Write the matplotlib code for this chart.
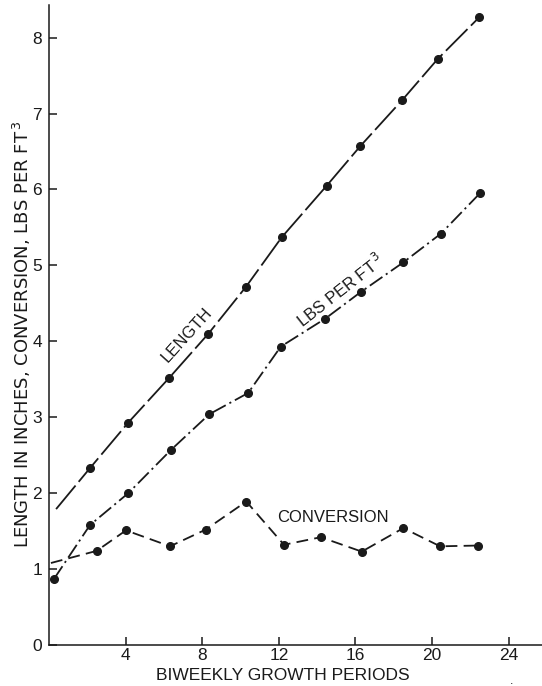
import matplotlib
matplotlib.use("Agg")
import matplotlib.pyplot as plt

# ---- data ----
length_x = [0.37, 2.14, 4.14, 6.28, 8.32, 10.29, 12.15, 14.5, 16.25, 18.45, 20.3, 22.47]
length_y = [1.79, 2.33, 2.93, 3.52, 4.10, 4.72, 5.37, 6.05, 6.57, 7.18, 7.72, 8.27]

lbs_x = [0.26, 2.14, 4.14, 6.37, 8.37, 10.4, 12.1, 14.43, 16.28, 18.5, 20.47, 22.5]
lbs_y = [0.87, 1.58, 2.00, 2.57, 3.04, 3.32, 3.93, 4.30, 4.65, 5.04, 5.42, 5.95]

conv_x = [0.1, 2.49, 4.02, 6.32, 8.18, 10.3, 12.27, 14.19, 16.33, 18.5, 20.42, 22.39]
conv_y = [1.08, 1.24, 1.51, 1.30, 1.52, 1.89, 1.32, 1.42, 1.23, 1.54, 1.30, 1.31]

xticks = [4, 8, 12, 16, 20, 24]
yticks = [0, 1, 2, 3, 4, 5, 6, 7, 8]

plt.rcParams['font.family'] = ['Liberation Sans', 'DejaVu Sans']
plt.rcParams['lines.scale_dashes'] = False
ink = '#1a1a1a'

fig = plt.figure(figsize=(5.42, 6.86), dpi=100)
ax = fig.add_axes([49/542, 41/686, 493/542, 640/686])
ax.set_xlim(0, 25.74)
ax.set_ylim(0, 8.43)

lw = 1.3
ms = 5.5
ax.plot(length_x, length_y, color=ink, lw=lw, dashes=(22, 3.5),
        marker='o', ms=ms, markevery=list(range(1, len(length_x))), clip_on=False)
ax.plot(lbs_x, lbs_y, color=ink, lw=lw, dashes=(11, 3, 1.5, 3),
        marker='o', ms=ms, clip_on=False)
ax.plot(conv_x, conv_y, color=ink, lw=lw, dashes=(8.5, 4.5),
        marker='o', ms=ms, markevery=list(range(1, len(conv_x))), clip_on=False)

for s in ['top', 'right']:
    ax.spines[s].set_visible(False)
for s in ['left', 'bottom']:
    ax.spines[s].set_color(ink)
    ax.spines[s].set_linewidth(1.1)

ax.set_xticks(xticks)
ax.set_yticks(yticks)
ax.tick_params(axis='both', direction='in', length=6, width=1.1, color=ink,
               labelsize=12.5, labelcolor=ink)
ax.tick_params(axis='y', pad=5)
ax.tick_params(axis='x', pad=2)

ax.text(7.2, 4.08, 'LENGTH', rotation=48, ha='center', va='center',
        fontsize=12, color=ink, rotation_mode='anchor')
ax.text(15.2, 4.67, 'LBS PER FT$^{\\,3}$', rotation=38, ha='center', va='center',
        fontsize=12, color=ink, rotation_mode='anchor')
ax.text(14.8, 1.68, 'CONVERSION', ha='center', va='center', fontsize=12, color=ink)

fig.text(283/542, 1 - 676/686, 'BIWEEKLY GROWTH PERIODS', ha='center', va='center',
         fontsize=12.5, color=ink)
fig.text(22/542, 1 - 334/686, 'LENGTH IN INCHES, CONVERSION, LBS PER FT$^{\\,3}$',
         rotation=90, ha='center', va='center', fontsize=13, color=ink,
         family='DejaVu Sans')
fig.text(512/542, 1 - 681/686, '.', ha='center', va='center', fontsize=9, color=ink)

fig.savefig('out.png', dpi=100)
